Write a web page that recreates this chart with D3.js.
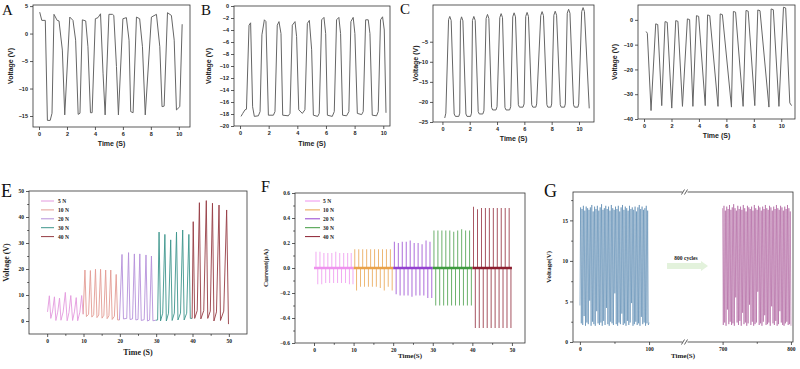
<!DOCTYPE html>
<html>
<head>
<meta charset="utf-8">
<script src="https://d3js.org/d3.v7.min.js"></script>
<style>
body { margin: 0; background: #fff; }
</style>
</head>
<body>
<script>
// ---------- data ----------
// A
const aTime = [0.05,0.2,0.45,0.6,0.8,0.93,1.07,1.3,1.43,1.67,1.84,2.2,2.43,2.62,2.8,2.93,3.1,3.34,3.5,3.68,3.8,4.03,4.22,4.4,4.58,4.73,5.0,5.25,5.35,5.54,5.68,6.0,6.25,6.44,6.56,6.73,6.97,7.2,7.4,7.6,8.04,8.4,8.64,8.8,8.95,9.19,9.47,9.67,9.83,10.07,10.24];
const aVolt = [3.9,2.4,2.4,-15.8,-15.8,-14.5,3.5,2.4,2.3,-3.0,-14.8,3.0,2.4,-1.2,-14.7,-14.5,2.5,2.3,-2.4,-14.4,-14.4,2.7,2.9,3.6,-7.2,-14.8,3.5,3.5,3.3,-6.0,-14.8,2.7,2.9,-1.2,-14.2,-14.4,3.0,2.7,-2.4,-14.8,3.0,3.5,-2.4,-13.3,-13.2,3.8,3.3,-1.2,-13.9,-13.3,1.7];
// B
const bTime = [0.07,0.19,0.35,0.45,0.63,0.74,0.88,1.0,1.28,1.4,1.53,1.7,1.81,1.98,2.33,2.44,2.6,2.72,2.86,2.98,3.37,3.49,3.65,3.84,3.95,4.1,4.35,4.53,4.7,4.84,5.0,5.12,5.42,5.53,5.7,5.86,5.98,6.1,6.44,6.58,6.74,6.9,7.02,7.16,7.44,7.6,7.74,7.9,8.02,8.19,8.49,8.6,8.77,8.95,9.07,9.23,9.53,9.65,9.81,9.95,10.07,10.19];
const bVolt = [-18.4,-17.9,-17.3,-17.2,-3.2,-2.8,-16.8,-18.4,-18.3,-17.6,-4.8,-2.3,-2.6,-18.2,-18.2,-17.6,-3.2,-2.6,-4.6,-18.2,-18.3,-17.9,-3.2,-2.6,-5.1,-17.3,-17.9,-17.3,-2.9,-2.4,-7.3,-18.2,-18.4,-17.9,-2.3,-1.9,-4.6,-18.2,-18.4,-17.6,-2.3,-1.9,-4.6,-18.2,-18.3,-17.6,-2.6,-1.9,-4.6,-17.9,-18.1,-17.6,-2.3,-2.3,-4.6,-18.2,-18.3,-17.6,-2.3,-1.8,-4.0,-17.8];
// C
const cTime = [0.17,0.25,0.45,0.54,0.64,0.86,0.95,1.2,1.27,1.32,1.4,1.5,1.72,1.8,2.06,2.13,2.2,2.3,2.4,2.62,2.7,2.96,3.04,3.2,3.3,3.4,3.6,3.68,3.92,4.0,4.2,4.3,4.4,4.58,4.66,4.92,5.0,5.15,5.25,5.35,5.56,5.64,5.9,5.98,6.1,6.2,6.3,6.54,6.62,6.84,6.9,7.2,7.3,7.4,7.65,7.72,7.94,8.0,8.16,8.26,8.36,8.63,8.7,8.94,9.0,9.14,9.24,9.34,9.6,9.67,9.92,9.98,10.2,10.3,10.4,10.75];
const cVolt = [-24,-22.8,0.5,1.3,0.3,-23,-23.6,-23.6,-22.8,0.2,1.2,0.2,-23,-23.6,-23.6,-22.8,0.3,1.3,0.3,-22.4,-23,-23,-22.2,0.8,1.8,0.8,-21.4,-22,-22,-21.2,1.0,2.0,1.0,-21.4,-22,-22,-21.2,1.2,2.2,1.2,-20.7,-21.3,-21.3,-20.5,1.3,2.3,1.3,-20.7,-21.3,-21.3,-20.5,1.5,2.5,1.5,-20.7,-21.3,-21.3,-20.5,1.6,2.6,1.6,-20.7,-21.3,-21.3,-20.5,2.1,3.1,2.1,-20.7,-21.3,-21.3,-20.5,2.5,3.5,2.5,-21.6];
// D (unlabelled fourth panel)
const dTime = [0.15,0.24,0.51,0.85,1.0,1.29,1.53,1.69,2.02,2.31,2.47,2.8,3.16,3.32,3.56,3.82,3.98,4.46,4.63,4.79,5.39,5.55,5.71,6.37,6.51,6.67,7.22,7.43,7.59,8.07,8.29,8.45,9.1,9.26,9.42,9.83,10.16,10.32,10.62,10.75];
const dVolt = [-4.7,-5.4,-36.6,-1.6,-1.9,-34.6,-0.7,-1.0,-35.6,-0.3,-0.6,-34.9,0.4,0.1,-34.9,1.7,1.4,-34.6,2.0,1.7,-34.9,2.4,2.1,-35.2,3.4,3.1,-34.9,3.8,3.5,-34.6,4.0,3.7,-35.2,4.4,4.1,-34.9,5.1,4.8,-33.5,-34.6];

// E : voltage for each force
const forces = ["5 N", "10 N", "20 N", "30 N", "40 N"];
const e5T = [0.1,0.6,1.0,1.5,2.0,2.4,2.9,3.4,3.8,4.4,5.0,5.5,6.0,6.5,7.0,7.5,8.0,8.4,9.0,9.5,9.9];
const e5V = [3.5,9.7,1.0,3.8,9.3,0.2,3.4,8.8,0.3,3.5,11.0,0.1,3.2,9.8,0.2,3.5,9.0,0.1,3.4,9.8,2.6];
const e10T = [9.9,10.4,10.8,11.4,11.9,12.3,12.8,13.3,13.7,14.2,14.7,15.1,15.6,16.1,16.5,17.0,17.5,17.9,18.5,19.0,19.4,19.9];
const e10V = [2.6,19.6,1.7,2.6,19.4,1.5,2.4,19.9,1.3,2.3,19.9,1.1,2.2,19.6,0.9,2.0,19.6,0.6,1.8,17.9,0.4,0.4];
const e20T = [19.9,20.6,21.0,21.9,22.4,22.8,23.5,24.0,24.4,25.0,25.5,25.9,26.7,27.2,27.6,28.2,28.7,29.1,29.9];
const e20V = [0.4,25.6,0.8,1.0,26.3,0.6,0.8,25.8,0.4,0.6,25.8,0.2,0.5,25.4,0.0,0.4,25.0,0.1,0.3];
const e30T = [29.9,30.4,30.8,31.2,31.8,32.4,32.8,33.4,34.0,34.4,35.0,35.6,36.0,36.7,37.3,37.7,38.4,39.0,39.4,39.9];
const e30V = [0.3,0.4,34.2,0.0,3.0,33.3,0.0,3.0,31.2,0.2,3.0,34.2,0.4,3.0,35.0,0.4,3.0,33.3,1.0,1.0];
const e40T = [39.9,40.2,40.6,41.3,41.9,42.3,43.1,43.8,44.2,44.9,45.5,45.9,46.6,47.3,47.7,48.6,49.4,49.9];
const e40V = [1.0,38.2,1.0,4.0,45.5,0.8,4.0,46.3,1.0,3.8,45.3,0.0,3.5,44.6,0.2,3.8,42.7,-1.2];

// F : current spikes (positive and negative peaks)
const fStart = [0, 10, 20, 30, 40];
const f5T = [0.5,1.5,2.5,3.5,4.5,5.5,6.5,7.5,8.5,9.4];
const f5Pos = [0.13,0.13,0.12,0.12,0.12,0.13,0.12,0.12,0.12,0.12];
const f5Neg = [-0.13,-0.13,-0.12,-0.12,-0.12,-0.12,-0.12,-0.12,-0.13,-0.13];
const f10T = [10.3,11.3,12.3,13.3,14.3,15.3,16.3,17.3,18.3,19.3];
const f10Pos = [0.15,0.15,0.15,0.15,0.15,0.15,0.15,0.15,0.15,0.15];
const f10Neg = [-0.18,-0.15,-0.15,-0.15,-0.15,-0.15,-0.16,-0.18,-0.15,-0.18];
const f20T = [20.3,21.3,22.3,23.3,24.3,25.3,26.3,27.3,28.3,29.3];
const f20Pos = [0.21,0.20,0.21,0.21,0.22,0.20,0.20,0.19,0.22,0.21];
const f20Neg = [-0.21,-0.22,-0.22,-0.22,-0.23,-0.22,-0.22,-0.22,-0.24,-0.24];
const f30T = [30.3,31.3,32.3,33.3,34.3,35.3,36.3,37.3,38.3,39.3];
const f30Pos = [0.30,0.30,0.30,0.30,0.30,0.29,0.30,0.31,0.30,0.30];
const f30Neg = [-0.30,-0.30,-0.30,-0.30,-0.30,-0.30,-0.30,-0.30,-0.30,-0.30];
const f40T = [40.3,41.3,42.3,43.3,44.3,45.3,46.3,47.3,48.3,49.3];
const f40Pos = [0.49,0.47,0.48,0.48,0.48,0.48,0.48,0.48,0.48,0.48];
const f40Neg = [-0.48,-0.48,-0.48,-0.48,-0.48,-0.48,-0.48,-0.48,-0.48,-0.48];

// G : durability, first 100 s and after 800 cycles
const gBlue = [4.5,16.6,2.3,16.4,2.1,16.8,3.2,16.2,2.0,16.7,2.4,16.5,2.2,16.3,5.1,16.6,2.0,16.9,2.5,16.1,2.2,16.7,2.0,16.4,3.8,16.8,2.3,16.2,2.1,16.6,2.4,17.0,2.0,16.3,2.6,16.5,2.1,16.8,4.2,16.4,2.2,16.7,2.0,16.2,2.5,16.9,2.3,16.5,2.1,16.3,6.0,16.7,2.2,16.4,2.0,16.8,2.4,16.1,2.2,16.6,3.5,16.9,2.1,16.3,2.3,16.7,2.0,16.5,2.6,16.2,2.1,16.8,2.4,16.4,4.8,16.6,2.0,16.3,2.2,16.7,2.5,16.1,2.1,16.6,2.3,16.9,2.0,16.4,3.1,16.7,2.2,16.3,2.4,16.5,2.0,16.8,2.3,16.2,2.1,2.4];
const gPink = [16.5,2.1,16.8,2.4,16.2,2.0,16.7,4.0,16.4,2.2,16.9,2.5,16.3,2.1,16.6,2.3,17.0,2.0,16.5,5.5,16.2,2.4,16.8,2.1,16.4,2.6,16.7,2.0,16.3,3.6,16.9,2.2,16.5,2.4,16.1,2.0,16.8,2.3,16.6,4.6,16.4,2.1,16.7,2.5,16.2,2.0,16.9,2.2,16.5,2.4,16.3,6.2,16.8,2.1,16.6,2.3,16.2,2.0,16.7,2.5,16.4,3.3,16.9,2.1,16.5,2.2,16.3,2.4,16.8,2.0,16.6,4.4,16.2,2.3,16.7,2.1,16.4,2.6,16.9,2.0,16.5,2.2,16.3,3.8,16.8,2.4,16.6,2.1,16.2,2.0,16.7,2.3,16.4,2.5,16.9,2.1,16.5,2.2,16.1,2.0];

const eColors = ["#e39ade", "#e39c94", "#b591da", "#3d958c", "#963c44"];
const fColors = ["#ee92ee", "#e9a24a", "#9442d0", "#3f9a3f", "#8c1f30"];

// ---------- drawing ----------
const sans = "'Liberation Sans', Arial, sans-serif";
const serif = "'Liberation Serif', 'Times New Roman', serif";

const svg = d3.select("body").append("svg")
    .attr("width", 800).attr("height", 369);

function styleAxis(s, font, fs) {
    s.select(".domain").remove();
    s.selectAll(".tick line").attr("stroke", "#333").attr("stroke-width", 0.8);
    s.selectAll("text").attr("font-family", font).attr("font-size", fs)
        .attr("font-weight", "bold").attr("fill", "#222");
}

function panel(c) {
    const x = d3.scaleLinear().domain(c.xd).range([c.l, c.r]);
    const y = d3.scaleLinear().domain(c.yd).range([c.b, c.t]);
    const g = svg.append("g");

    if (c.xminor) {
        g.append("g").attr("transform", "translate(0," + c.b + ")")
            .call(d3.axisBottom(x).tickValues(c.xminor).tickSize(1.8).tickFormat(""))
            .call(s => styleAxis(s, c.font, c.fs));
    }
    if (c.yminor) {
        g.append("g").attr("transform", "translate(" + c.l + ",0)")
            .call(d3.axisLeft(y).tickValues(c.yminor).tickSize(1.8).tickFormat(""))
            .call(s => styleAxis(s, c.font, c.fs));
    }
    g.append("g").attr("transform", "translate(0," + c.b + ")")
        .call(d3.axisBottom(x).tickValues(c.xt).tickSize(3).tickPadding(2).tickFormat(c.xf || d3.format("d")))
        .call(s => styleAxis(s, c.font, c.fs));
    g.append("g").attr("transform", "translate(" + c.l + ",0)")
        .call(d3.axisLeft(y).tickValues(c.yt).tickSize(3).tickPadding(2).tickFormat(c.yf || d3.format("d")))
        .call(s => styleAxis(s, c.font, c.fs));

    g.append("rect")
        .attr("x", c.l).attr("y", c.t)
        .attr("width", c.r - c.l).attr("height", c.b - c.t)
        .attr("fill", "none").attr("stroke", "#333").attr("stroke-width", 0.8);

    // axis titles
    g.append("text")
        .attr("x", (c.l + c.r) / 2).attr("y", c.xly)
        .attr("text-anchor", "middle")
        .attr("font-family", c.font).attr("font-size", c.tfs).attr("font-weight", "bold")
        .attr("fill", "#222")
        .text(c.xlabel);
    g.append("text")
        .attr("transform", "translate(" + c.ylx + "," + ((c.t + c.b) / 2) + ") rotate(-90)")
        .attr("text-anchor", "middle")
        .attr("font-family", c.font).attr("font-size", c.tfs).attr("font-weight", "bold")
        .attr("fill", "#222")
        .text(c.ylabel);

    return { x, y, g };
}

function trace(p, t, v, color, w) {
    p.g.append("path")
        .datum(d3.zip(t, v))
        .attr("fill", "none")
        .attr("stroke", color)
        .attr("stroke-width", w)
        .attr("stroke-linejoin", "round")
        .attr("d", d3.line().x(d => p.x(d[0])).y(d => p.y(d[1])));
}

function letter(txt, x, y, size) {
    svg.append("text").attr("x", x).attr("y", y)
        .attr("font-family", serif).attr("font-size", size)
        .attr("fill", "#111")
        .text(txt);
}

const topCommon = { font: sans, fs: 5.5, tfs: 7, xlabel: "Time (S)", ylabel: "Voltage (V)",
    xt: [0, 2, 4, 6, 8, 10] };

// A
const pA = panel(Object.assign({}, topCommon, {
    l: 33, r: 190, t: 5, b: 127, xd: [-0.43, 10.8], yd: [-17, 5.2],
    yt: [-15, -10, -5, 0, 5], xly: 146, ylx: 13 }));
trace(pA, aTime, aVolt, "#666", 1);

// B
const pB = panel(Object.assign({}, topCommon, {
    l: 234, r: 390, t: 6, b: 126, xd: [-0.42, 10.47], yd: [-20, 0],
    yt: d3.range(-20, 1, 2), xly: 146, ylx: 211 }));
trace(pB, bTime, bVolt, "#666", 1);

// C
const pC = panel(Object.assign({}, topCommon, {
    l: 433, r: 594, t: 5, b: 122, xd: [-0.69, 11.1], yd: [-25, 4.15],
    yt: [-25, -20, -15, -10, -5], xly: 141, ylx: 418 }));
trace(pC, cTime, cVolt, "#666", 1);

// D
const pD = panel(Object.assign({}, topCommon, {
    l: 638, r: 795, t: 5, b: 119, xd: [-0.44, 11.0], yd: [-40, 6],
    yt: [-40, -30, -20, -10, 0], xly: 138, ylx: 617 }));
trace(pD, dTime, dVolt, "#666", 1);

// E
const pE = panel({
    font: serif, fs: 5.5, tfs: 8, xlabel: "Time (S)", ylabel: "Voltage (V)",
    l: 29, r: 247, t: 191, b: 334, xd: [-5, 55], yd: [-5, 50],
    xt: [0, 10, 20, 30, 40, 50], yt: [0, 10, 20, 30, 40, 50],
    xminor: [5, 15, 25, 35, 45], yminor: [5, 15, 25, 35, 45],
    xly: 355, ylx: 9 });
const eT = [e5T, e10T, e20T, e30T, e40T];
const eV = [e5V, e10V, e20V, e30V, e40V];
forces.forEach((f, i) => trace(pE, eT[i], eV[i], eColors[i], 0.9));

const legE = pE.g.append("g");
forces.forEach((f, i) => {
    const yy = 201 + i * 8.9;
    legE.append("line").attr("x1", 41).attr("x2", 54).attr("y1", yy).attr("y2", yy)
        .attr("stroke", eColors[i]).attr("stroke-width", 1);
    legE.append("text").attr("x", 58).attr("y", yy + 2)
        .attr("font-family", serif).attr("font-size", 5.5).attr("font-weight", "bold")
        .attr("fill", "#222").text(f);
});

// F
const pF = panel({
    font: serif, fs: 5.5, tfs: 7, xlabel: "Time(S)", ylabel: "Current(\u03bcA)",
    l: 295, r: 525, t: 193, b: 343, xd: [-4.8, 53.3], yd: [-0.6, 0.6],
    xt: [0, 10, 20, 30, 40, 50], yt: [-0.6, -0.4, -0.2, 0, 0.2, 0.4, 0.6],
    yf: d3.format(".1f"),
    xminor: [5, 15, 25, 35, 45], yminor: [-0.5, -0.3, -0.1, 0.1, 0.3, 0.5],
    xly: 358, ylx: 268 });
const fT = [f5T, f10T, f20T, f30T, f40T];
const fPos = [f5Pos, f10Pos, f20Pos, f30Pos, f40Pos];
const fNeg = [f5Neg, f10Neg, f20Neg, f30Neg, f40Neg];
forces.forEach((f, i) => {
    const col = fColors[i];
    fT[i].forEach((t, k) => {
        pF.g.append("line")
            .attr("x1", pF.x(t)).attr("x2", pF.x(t))
            .attr("y1", pF.y(0)).attr("y2", pF.y(fPos[i][k]))
            .attr("stroke", col).attr("stroke-width", 0.9).attr("opacity", 0.85);
        pF.g.append("line")
            .attr("x1", pF.x(t + 0.45)).attr("x2", pF.x(t + 0.45))
            .attr("y1", pF.y(0)).attr("y2", pF.y(fNeg[i][k]))
            .attr("stroke", col).attr("stroke-width", 0.9).attr("opacity", 0.85);
    });
    pF.g.append("line")
        .attr("x1", pF.x(fStart[i])).attr("x2", pF.x(fStart[i] + 10))
        .attr("y1", pF.y(0)).attr("y2", pF.y(0))
        .attr("stroke", col).attr("stroke-width", 2.6);
});
const legF = pF.g.append("g");
forces.forEach((f, i) => {
    const yy = 201 + i * 8.9;
    legF.append("line").attr("x1", 305).attr("x2", 320).attr("y1", yy).attr("y2", yy)
        .attr("stroke", fColors[i]).attr("stroke-width", 1);
    legF.append("text").attr("x", 323).attr("y", yy + 2)
        .attr("font-family", serif).attr("font-size", 5.5).attr("font-weight", "bold")
        .attr("fill", "#222").text(f);
});

// G : broken time axis
const gL = 573, gR = 793, gTop = 192, gB = 342, gBreak = 685;
const xg1 = d3.scaleLinear().domain([-10, 152]).range([gL, gBreak]);
const xg2 = d3.scaleLinear().domain([645, 803]).range([gBreak, gR]);
const yg = d3.scaleLinear().domain([0, 18.5]).range([gB, gTop]);
const G = svg.append("g");

G.append("g").attr("transform", "translate(0," + gB + ")")
    .call(d3.axisBottom(xg1).tickValues([50]).tickSize(1.8).tickFormat(""))
    .call(s => styleAxis(s, serif, 5.5));
G.append("g").attr("transform", "translate(0," + gB + ")")
    .call(d3.axisBottom(xg2).tickValues([750]).tickSize(1.8).tickFormat(""))
    .call(s => styleAxis(s, serif, 5.5));
G.append("g").attr("transform", "translate(0," + gB + ")")
    .call(d3.axisBottom(xg1).tickValues([0, 100]).tickSize(3).tickPadding(2))
    .call(s => styleAxis(s, serif, 5.5));
G.append("g").attr("transform", "translate(0," + gB + ")")
    .call(d3.axisBottom(xg2).tickValues([700, 800]).tickSize(3).tickPadding(2))
    .call(s => styleAxis(s, serif, 5.5));
G.append("g").attr("transform", "translate(" + gL + ",0)")
    .call(d3.axisLeft(yg).tickValues([2.5, 7.5, 12.5, 17.5]).tickSize(1.8).tickFormat(""))
    .call(s => styleAxis(s, serif, 5.5));
G.append("g").attr("transform", "translate(" + gL + ",0)")
    .call(d3.axisLeft(yg).tickValues([0, 5, 10, 15]).tickSize(3).tickPadding(2))
    .call(s => styleAxis(s, serif, 5.5));

const blueIdx = d3.scaleLinear().domain([0, gBlue.length - 1]).range([xg1(0), xg1(100)]);
const pinkIdx = d3.scaleLinear().domain([0, gPink.length - 1]).range([xg2(700), xg2(800)]);
G.append("path").datum(gBlue)
    .attr("fill", "none").attr("stroke", "#3f76a6").attr("stroke-width", 0.7).attr("stroke-opacity", 0.7)
    .attr("d", d3.line().x((d, i) => blueIdx(i)).y(d => yg(d)));
G.append("path").datum(gPink)
    .attr("fill", "none").attr("stroke", "#a2488f").attr("stroke-width", 0.7).attr("stroke-opacity", 0.7)
    .attr("d", d3.line().x((d, i) => pinkIdx(i)).y(d => yg(d)));

G.append("rect").attr("x", gL).attr("y", gTop).attr("width", gR - gL).attr("height", gB - gTop)
    .attr("fill", "none").attr("stroke", "#333").attr("stroke-width", 0.8);
// break marks
[gTop, gB].forEach(yy => {
    G.append("rect").attr("x", gBreak - 2.5).attr("y", yy - 2).attr("width", 5).attr("height", 4).attr("fill", "#fff");
    [-2, 1].forEach(dx => {
        G.append("line").attr("x1", gBreak + dx - 1.5).attr("x2", gBreak + dx + 1.5)
            .attr("y1", yy + 2.5).attr("y2", yy - 2.5)
            .attr("stroke", "#333").attr("stroke-width", 0.8);
    });
});

// arrow annotation
const arY = 266;
G.append("path")
    .attr("d", "M667," + (arY - 3) + "L701," + (arY - 3) + "L701," + (arY - 5) + "L708," + arY +
        "L701," + (arY + 5) + "L701," + (arY + 3) + "L667," + (arY + 3) + "Z")
    .attr("fill", "#e3f2dc");
G.append("text").attr("x", 686).attr("y", 260).attr("text-anchor", "middle")
    .attr("font-family", serif).attr("font-size", 5.5).attr("font-weight", "bold")
    .attr("fill", "#222").text("800 cycles");

G.append("text").attr("x", (gL + gR) / 2).attr("y", 358).attr("text-anchor", "middle")
    .attr("font-family", serif).attr("font-size", 7).attr("font-weight", "bold")
    .attr("fill", "#222").text("Time(S)");
G.append("text").attr("transform", "translate(551," + ((gTop + gB) / 2) + ") rotate(-90)")
    .attr("text-anchor", "middle")
    .attr("font-family", serif).attr("font-size", 7).attr("font-weight", "bold")
    .attr("fill", "#222").text("Voltage(V)");

// panel letters
letter("A", 2, 15, 15);
letter("B", 201, 15, 15);
letter("C", 400, 14, 15);
letter("E", 1, 197, 18);
letter("F", 261, 192, 16);
letter("G", 544, 197, 18);
</script>
</body>
</html>
